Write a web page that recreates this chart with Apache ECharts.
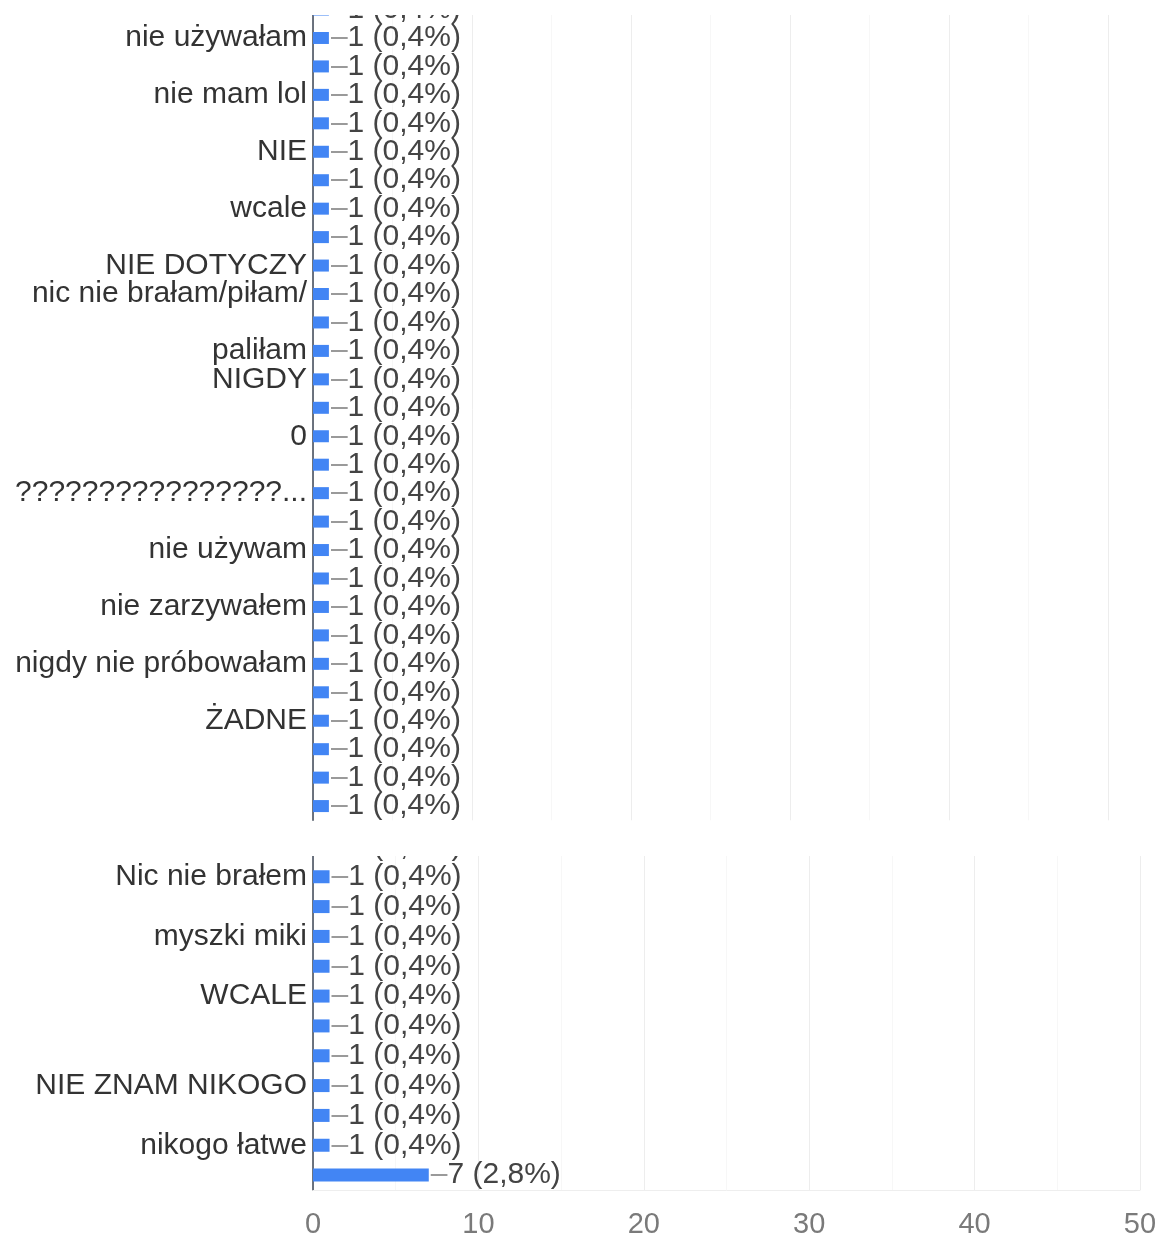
<!DOCTYPE html>
<html>
<head>
<meta charset="utf-8">
<script src="https://cdn.jsdelivr.net/npm/echarts@6/dist/echarts.min.js"></script>
<style>
  html, body { margin: 0; padding: 0; background: #fff; }
  #chart { width: 1164px; height: 1240px; }
</style>
</head>
<body>
<div id="chart"></div>
<script>
// answers shown in the upper screenshot (first row is cut off at the top)
const topLabels = [
  '', 'nie używałam', '', 'nie mam lol', '', 'NIE', '', 'wcale', '',
  'NIE DOTYCZY', 'nic nie brałam/piłam/', '', 'paliłam', 'NIGDY', '', '0', '',
  '????????????????...', '', 'nie używam', '', 'nie zarzywałem', '',
  'nigdy nie próbowałam', '', 'ŻADNE', '', '', ''
]
const topValues = [
  1, 1, 1, 1, 1, 1, 1, 1, 1, 1, 1, 1, 1, 1, 1,
  1, 1, 1, 1, 1, 1, 1, 1, 1, 1, 1, 1, 1, 1
]

// answers shown in the lower screenshot
const bottomLabels = [
  '', 'Nic nie brałem', '', 'myszki miki', '', 'WCALE', '', '',
  'NIE ZNAM NIKOGO', '', 'nikogo łatwe', ''
]
const bottomValues = [1, 1, 1, 1, 1, 1, 1, 1, 1, 1, 1, 7]

const xTicks = [0, 10, 20, 30, 40, 50]
const respondents = 250

const FONT = 'Arial, "Liberation Sans", sans-serif'

function pct(v) {
  return (v / respondents * 100).toFixed(1).replace('.', ',') + '%'
}

const barLabel = {
  show: true,
  position: 'right',
  distance: 2,
  formatter: p => '{d|–}{v|' + p.value + ' (' + pct(p.value) + ')}',
  rich: {
    d: { color: '#9a9a9a', fontSize: 30, fontFamily: FONT },
    v: { color: '#444', fontSize: 30, fontFamily: FONT }
  }
}

function valueAxis(gridIndex, showLabels) {
  return {
    type: 'value',
    gridIndex,
    min: xTicks[0],
    max: xTicks[xTicks.length - 1],
    interval: xTicks[1] - xTicks[0],
    axisLine: { show: showLabels, lineStyle: { color: '#eeeeee' } },
    axisTick: { show: false },
    axisLabel: {
      show: showLabels,
      color: '#7a7a7a',
      fontSize: 29,
      fontFamily: FONT,
      margin: 20
    },
    splitLine: { show: true, lineStyle: { color: '#ededed' } },
    minorTick: { show: false, splitNumber: 2 },
    minorSplitLine: { show: true, lineStyle: { color: '#f7f7f7' } }
  }
}

function catAxis(gridIndex, labels) {
  return {
    type: 'category',
    gridIndex,
    data: labels,
    inverse: true,
    axisLine: { show: true, lineStyle: { color: '#3d4656', width: 1.5 } },
    axisTick: { show: false },
    axisLabel: {
      interval: 0,
      margin: 6,
      color: '#333',
      fontSize: 30,
      fontFamily: FONT
    }
  }
}

const chart = echarts.init(document.getElementById('chart'), null, { renderer: 'canvas' })

chart.setOption({
  animation: false,
  backgroundColor: '#fff',
  grid: [
    { left: 313, right: 56, top: -4.7, height: 825, outerBoundsMode: 'none' },
    { left: 313, right: 24, top: 832, height: 358, outerBoundsMode: 'none' }
  ],
  xAxis: [valueAxis(0, false), valueAxis(1, true)],
  yAxis: [catAxis(0, topLabels), catAxis(1, bottomLabels)],
  series: [
    {
      type: 'bar',
      xAxisIndex: 0,
      yAxisIndex: 0,
      data: topValues,
      barWidth: 12,
      itemStyle: { color: '#4285f4' },
      label: barLabel
    },
    {
      type: 'bar',
      xAxisIndex: 1,
      yAxisIndex: 1,
      data: bottomValues,
      barWidth: 13,
      itemStyle: { color: '#4285f4' },
      label: barLabel
    }
  ],
  // white strips where the two screenshots were cut
  graphic: [
    { type: 'rect', z: 100, shape: { x: 0, y: 0, width: 1164, height: 15 }, style: { fill: '#fff' } },
    { type: 'rect', z: 100, shape: { x: 0, y: 822, width: 1164, height: 34 }, style: { fill: '#fff' } }
  ]
})
</script>
</body>
</html>
